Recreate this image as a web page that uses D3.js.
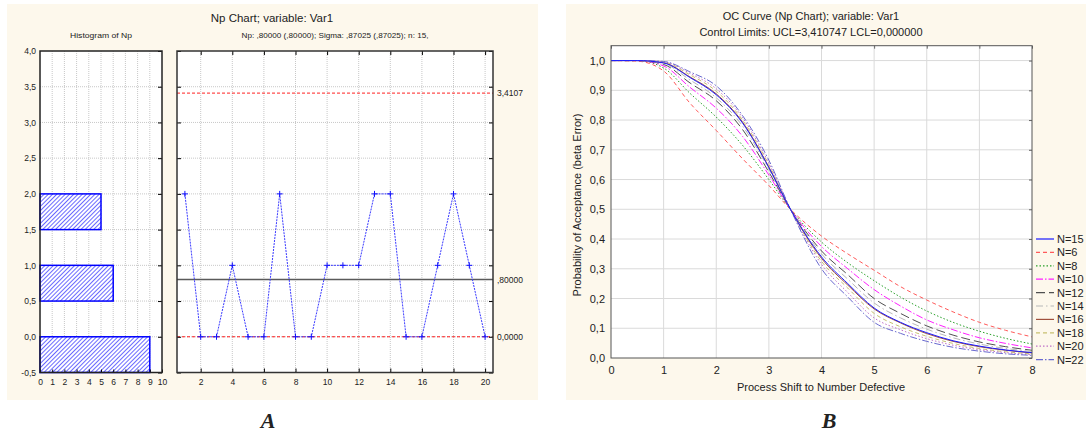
<!DOCTYPE html>
<html>
<head>
<meta charset="utf-8">
<script src="https://cdn.jsdelivr.net/npm/d3@7"></script>
<style>
  body { margin: 0; background: #fff; }
  text { font-family: 'Liberation Sans', Arial, sans-serif; fill: #222; }
</style>
</head>
<body>
<div id="chart"></div>
<script>
// ---- data: np chart (panel A)
let sampleNo = [1, 2, 3, 4, 5, 6, 7, 8, 9, 10, 11, 12, 13, 14, 15, 16, 17, 18, 19, 20]
let npValues = [2, 0, 0, 1, 0, 0, 2, 0, 0, 1, 1, 1, 2, 2, 0, 0, 1, 2, 1, 0]
let binLow = [-0.5, 0.5, 1.5]
let binHigh = [0, 1, 2]
let binCount = [9, 6, 5]
let ucl = 3.4107
let centerLine = 0.8
let lcl = 0
let limitLabels = ['3,4107', ',80000', '0,0000']

// ---- data: OC curves (panel B)
let shifts = [0, 0.5, 1, 1.5, 2, 2.5, 3, 3.41, 4, 4.5, 5, 5.5, 6, 6.5, 7, 7.5, 8]
let seriesNames = ['N=15', 'N=6', 'N=8', 'N=10', 'N=12', 'N=14', 'N=16', 'N=18', 'N=20', 'N=22']
let ocN15 = [1, 1, 0.992, 0.943, 0.885, 0.79, 0.64, 0.5, 0.34, 0.25, 0.168, 0.12, 0.085, 0.058, 0.04, 0.027, 0.018]
let ocN6 = [1, 0.998, 0.965, 0.857, 0.765, 0.67, 0.58, 0.5, 0.41, 0.35, 0.295, 0.24, 0.195, 0.155, 0.12, 0.093, 0.071]
let ocN8 = [1, 1, 0.975, 0.89, 0.81, 0.715, 0.6, 0.5, 0.39, 0.32, 0.26, 0.205, 0.158, 0.12, 0.09, 0.066, 0.047]
let ocN10 = [1, 1, 0.982, 0.91, 0.84, 0.745, 0.615, 0.5, 0.375, 0.3, 0.23, 0.175, 0.128, 0.095, 0.068, 0.049, 0.034]
let ocN12 = [1, 1, 0.987, 0.925, 0.865, 0.768, 0.625, 0.5, 0.36, 0.28, 0.2, 0.15, 0.108, 0.077, 0.054, 0.038, 0.026]
let ocN14 = [1, 1, 0.99, 0.935, 0.875, 0.78, 0.635, 0.5, 0.35, 0.265, 0.185, 0.135, 0.097, 0.068, 0.047, 0.032, 0.022]
let ocN16 = [1, 1, 0.993, 0.945, 0.888, 0.793, 0.642, 0.5, 0.335, 0.245, 0.165, 0.118, 0.082, 0.056, 0.038, 0.026, 0.017]
let ocN18 = [1, 1, 0.995, 0.952, 0.897, 0.8, 0.65, 0.5, 0.325, 0.235, 0.15, 0.105, 0.073, 0.049, 0.032, 0.021, 0.014]
let ocN20 = [1, 1, 0.996, 0.957, 0.905, 0.808, 0.655, 0.5, 0.315, 0.22, 0.135, 0.095, 0.065, 0.043, 0.028, 0.018, 0.011]
let ocN22 = [1, 1, 0.997, 0.962, 0.915, 0.815, 0.665, 0.5, 0.3, 0.205, 0.12, 0.083, 0.056, 0.036, 0.023, 0.014, 0.009]
let ocValues = [ocN15, ocN6, ocN8, ocN10, ocN12, ocN14, ocN16, ocN18, ocN20, ocN22]

let seriesColor = ['#1a1aff', '#ff5a5a', '#2aa02a', '#ff20ff', '#505050', '#b8b8b8', '#a0503c', '#c8c070', '#c070c8', '#6a6ad0']
let seriesDash = ['none', '4,3', '1.5,2', '7,2,1.5,2', '9,4', '7,3,1.5,3', 'none', '4,3', '1.5,2', '7,2,1.5,2']

let comma = d => d.toFixed(1).replace('.', ',')

let svg = d3.select('#chart')
  .append('svg')
  .attr('width', 1086)
  .attr('height', 434)

let defs = svg.append('defs')
let hatch = defs.append('pattern')
  .attr('id', 'hatch')
  .attr('patternUnits', 'userSpaceOnUse')
  .attr('width', 3)
  .attr('height', 3)
  .attr('patternTransform', 'rotate(45)')
hatch.append('rect').attr('width', 3).attr('height', 3).attr('fill', '#fff')
hatch.append('line').attr('x1', 0).attr('y1', 0).attr('x2', 0).attr('y2', 3)
  .attr('stroke', '#2a2aff').attr('stroke-width', 1.4)

// panel backgrounds
svg.append('rect').attr('x', 7).attr('y', 4).attr('width', 531).attr('height', 396).attr('fill', '#fdf8ec')
svg.append('rect').attr('x', 566).attr('y', 4).attr('width', 520).attr('height', 396).attr('fill', '#fdf8ec')

// ================= PANEL A =================
let valY = d3.scaleLinear().domain([-0.5, 4]).range([372.5, 51])
let histX = d3.scaleLinear().domain([0, 10]).range([40, 162])
let npX = d3.scaleLinear().domain([0.5, 20.5]).range([177, 493])
let yTicks = [-0.5, 0, 0.5, 1, 1.5, 2, 2.5, 3, 3.5, 4]

svg.append('text').attr('x', 272).attr('y', 22).attr('text-anchor', 'middle')
  .attr('font-size', 11.5).text('Np Chart; variable:  Var1')
svg.append('text').attr('x', 101).attr('y', 38).attr('text-anchor', 'middle')
  .attr('font-size', 8).attr('textLength', 62).attr('lengthAdjust', 'spacingAndGlyphs')
  .text('Histogram of Np')
svg.append('text').attr('x', 335).attr('y', 38).attr('text-anchor', 'middle')
  .attr('font-size', 8).attr('textLength', 187).attr('lengthAdjust', 'spacingAndGlyphs')
  .text('Np: ,80000 (,80000); Sigma: ,87025 (,87025); n: 15,')

// histogram
let hist = svg.append('g')
hist.append('rect').attr('x', histX(0)).attr('y', valY(4))
  .attr('width', histX(10) - histX(0)).attr('height', valY(-0.5) - valY(4)).attr('fill', '#fff')

hist.selectAll('.hgrid-x')
  .data([1, 2, 3, 4, 5, 6, 7, 8, 9])
  .enter().append('line')
  .attr('class', 'hgrid-x')
  .attr('x1', d => histX(d)).attr('x2', d => histX(d))
  .attr('y1', valY(4)).attr('y2', valY(-0.5))
  .attr('stroke', '#c8c8c8').attr('stroke-dasharray', '1,1')
hist.selectAll('.hgrid-y')
  .data(yTicks.slice(1, -1))
  .enter().append('line')
  .attr('class', 'hgrid-y')
  .attr('x1', histX(0)).attr('x2', histX(10))
  .attr('y1', d => valY(d)).attr('y2', d => valY(d))
  .attr('stroke', '#c8c8c8').attr('stroke-dasharray', '1,1')

hist.selectAll('.bar')
  .data(binCount)
  .enter().append('rect')
  .attr('class', 'bar')
  .attr('x', histX(0))
  .attr('y', (d, i) => valY(binHigh[i]))
  .attr('width', d => histX(d) - histX(0))
  .attr('height', (d, i) => valY(binLow[i]) - valY(binHigh[i]))
  .attr('fill', 'url(#hatch)')
  .attr('stroke', '#0000ff').attr('stroke-width', 1.5)

hist.append('g')
  .attr('transform', `translate(${histX(0)},0)`)
  .call(d3.axisLeft(valY).tickValues(yTicks).tickFormat(comma).tickSize(0).tickPadding(4))
  .call(g => g.select('.domain').remove())
  .call(g => g.selectAll('text').attr('font-size', 8.5))
hist.append('g')
  .attr('transform', `translate(${histX(10)},0)`)
  .call(d3.axisRight(valY).tickValues(yTicks).tickFormat('').tickSize(-4))
  .call(g => g.select('.domain').remove())
hist.append('g')
  .attr('transform', `translate(0,${valY(-0.5)})`)
  .call(d3.axisBottom(histX).ticks(10).tickSize(-3).tickPadding(6))
  .call(g => g.select('.domain').remove())
  .call(g => g.selectAll('text').attr('font-size', 8.5))
hist.append('rect').attr('x', histX(0)).attr('y', valY(4))
  .attr('width', histX(10) - histX(0)).attr('height', valY(-0.5) - valY(4))
  .attr('fill', 'none').attr('stroke', '#222').attr('stroke-width', 1.5)

// np chart
let np = svg.append('g')
np.append('rect').attr('x', npX(0.5)).attr('y', valY(4))
  .attr('width', npX(20.5) - npX(0.5)).attr('height', valY(-0.5) - valY(4)).attr('fill', '#fff')

let evenTicks = [2, 4, 6, 8, 10, 12, 14, 16, 18, 20]
np.selectAll('.ngrid-x')
  .data(evenTicks)
  .enter().append('line')
  .attr('class', 'ngrid-x')
  .attr('x1', d => npX(d)).attr('x2', d => npX(d))
  .attr('y1', valY(4)).attr('y2', valY(-0.5))
  .attr('stroke', '#c8c8c8').attr('stroke-dasharray', '1,1')
np.selectAll('.ngrid-y')
  .data(yTicks.slice(1, -1))
  .enter().append('line')
  .attr('class', 'ngrid-y')
  .attr('x1', npX(0.5)).attr('x2', npX(20.5))
  .attr('y1', d => valY(d)).attr('y2', d => valY(d))
  .attr('stroke', '#c8c8c8').attr('stroke-dasharray', '1,1')

// limits
np.selectAll('.limit')
  .data([ucl, centerLine, lcl])
  .enter().append('line')
  .attr('class', 'limit')
  .attr('x1', npX(0.5)).attr('x2', npX(20.5))
  .attr('y1', d => valY(d)).attr('y2', d => valY(d))
  .attr('stroke', (d, i) => i === 1 ? '#5a5a5a' : '#ff2020')
  .attr('stroke-width', (d, i) => i === 1 ? 1.5 : 1)
  .attr('stroke-dasharray', (d, i) => i === 1 ? 'none' : '3,2')
np.selectAll('.limit-label')
  .data([ucl, centerLine, lcl])
  .enter().append('text')
  .attr('class', 'limit-label')
  .attr('x', npX(20.5) + 4)
  .attr('y', d => valY(d) + 3)
  .attr('font-size', 8.5)
  .text((d, i) => limitLabels[i])

let npLine = d3.line()
  .x((d, i) => npX(sampleNo[i]))
  .y(d => valY(d))
np.append('path')
  .datum(npValues)
  .attr('d', npLine)
  .attr('fill', 'none')
  .attr('stroke', '#3a3aff')
  .attr('stroke-width', 1)
  .attr('stroke-dasharray', '2,1')
np.selectAll('.marker')
  .data(npValues)
  .enter().append('path')
  .attr('class', 'marker')
  .attr('transform', (d, i) => `translate(${npX(sampleNo[i])},${valY(d)})`)
  .attr('d', 'M-3,0H3M0,-3V3')
  .attr('stroke', '#1010ff')
  .attr('stroke-width', 1)

np.append('g')
  .attr('transform', `translate(0,${valY(-0.5)})`)
  .call(d3.axisBottom(npX).tickValues(evenTicks).tickSize(-4).tickPadding(6))
  .call(g => g.select('.domain').remove())
  .call(g => g.selectAll('text').attr('font-size', 8.5))
np.append('g')
  .attr('transform', `translate(0,${valY(4)})`)
  .call(d3.axisTop(npX).tickValues(evenTicks).tickFormat('').tickSize(-4))
  .call(g => g.select('.domain').remove())
np.append('g')
  .attr('transform', `translate(${npX(0.5)},0)`)
  .call(d3.axisLeft(valY).tickValues(yTicks).tickFormat('').tickSize(-4))
  .call(g => g.select('.domain').remove())
np.append('g')
  .attr('transform', `translate(${npX(20.5)},0)`)
  .call(d3.axisRight(valY).tickValues(yTicks).tickFormat('').tickSize(-4))
  .call(g => g.select('.domain').remove())
np.append('rect').attr('x', npX(0.5)).attr('y', valY(4))
  .attr('width', npX(20.5) - npX(0.5)).attr('height', valY(-0.5) - valY(4))
  .attr('fill', 'none').attr('stroke', '#333').attr('stroke-width', 1.5)

// ================= PANEL B =================
let ocX = d3.scaleLinear().domain([0, 8]).range([611, 1032])
let ocY = d3.scaleLinear().domain([0, 1.05]).range([358, 45.7])
let ocYTicks = [0, 0.1, 0.2, 0.3, 0.4, 0.5, 0.6, 0.7, 0.8, 0.9, 1.0]
let ocXTicks = [0, 1, 2, 3, 4, 5, 6, 7, 8]

svg.append('text').attr('x', 811).attr('y', 20).attr('text-anchor', 'middle')
  .attr('font-size', 11).text('OC Curve (Np Chart); variable: Var1')
svg.append('text').attr('x', 811).attr('y', 36).attr('text-anchor', 'middle')
  .attr('font-size', 11).text('Control Limits: UCL=3,410747 LCL=0,000000')

let oc = svg.append('g')
oc.append('rect').attr('x', ocX(0)).attr('y', ocY(1.05))
  .attr('width', ocX(8) - ocX(0)).attr('height', ocY(0) - ocY(1.05)).attr('fill', '#fff')

oc.selectAll('.ogrid-x')
  .data(ocXTicks.slice(1, -1))
  .enter().append('line')
  .attr('class', 'ogrid-x')
  .attr('x1', d => ocX(d)).attr('x2', d => ocX(d))
  .attr('y1', ocY(1.05)).attr('y2', ocY(0))
  .attr('stroke', '#dadada')
oc.selectAll('.ogrid-y')
  .data(ocYTicks.slice(1))
  .enter().append('line')
  .attr('class', 'ogrid-y')
  .attr('x1', ocX(0)).attr('x2', ocX(8))
  .attr('y1', d => ocY(d)).attr('y2', d => ocY(d))
  .attr('stroke', '#dadada')

let ocLine = d3.line()
  .x((d, i) => ocX(shifts[i]))
  .y(d => ocY(d))
  .curve(d3.curveMonotoneX)

// draw N=15 last so it sits on top like the original
let drawOrder = [1, 2, 3, 4, 5, 6, 7, 8, 9, 0]
oc.selectAll('.oc-curve')
  .data(drawOrder)
  .enter().append('path')
  .attr('class', 'oc-curve')
  .attr('d', k => ocLine(ocValues[k]))
  .attr('fill', 'none')
  .attr('stroke', k => seriesColor[k])
  .attr('stroke-width', 1)
  .attr('stroke-dasharray', k => seriesDash[k])

oc.append('g')
  .attr('transform', `translate(${ocX(0)},0)`)
  .call(d3.axisLeft(ocY).tickValues(ocYTicks).tickFormat(comma).tickSize(0).tickPadding(6))
  .call(g => g.select('.domain').remove())
  .call(g => g.selectAll('text').attr('font-size', 11))
oc.append('g')
  .attr('transform', `translate(${ocX(8)},0)`)
  .call(d3.axisRight(ocY).tickValues(ocYTicks).tickFormat('').tickSize(-3))
  .call(g => g.select('.domain').remove())
oc.append('g')
  .attr('transform', `translate(0,${ocY(0)})`)
  .call(d3.axisBottom(ocX).tickValues(ocXTicks).tickSize(0).tickPadding(8))
  .call(g => g.select('.domain').remove())
  .call(g => g.selectAll('text').attr('font-size', 11))
oc.append('g')
  .attr('transform', `translate(0,${ocY(1.05)})`)
  .call(d3.axisTop(ocX).tickValues(ocXTicks).tickFormat('').tickSize(-3))
  .call(g => g.select('.domain').remove())
oc.selectAll('.tick line').attr('stroke', '#666')
oc.append('rect').attr('x', ocX(0)).attr('y', ocY(1.05))
  .attr('width', ocX(8) - ocX(0)).attr('height', ocY(0) - ocY(1.05))
  .attr('fill', 'none').attr('stroke', '#555').attr('stroke-width', 1)

svg.append('text')
  .attr('transform', 'translate(581,205) rotate(-90)')
  .attr('text-anchor', 'middle')
  .attr('font-size', 11)
  .text('Probability of Acceptance (beta Error)')
svg.append('text').attr('x', 821).attr('y', 391).attr('text-anchor', 'middle')
  .attr('font-size', 11).text('Process Shift to Number Defective')

// legend
let legend = svg.append('g').attr('transform', 'translate(1036,239)')
legend.selectAll('.legend-entry')
  .data(seriesNames)
  .enter().append('g')
  .attr('class', 'legend-entry')
  .attr('transform', (d, i) => `translate(0,${i * 13.4})`)
  .each(function (d, i) {
    let g = d3.select(this)
    g.append('line')
      .attr('x1', 0).attr('x2', 18).attr('y1', 0).attr('y2', 0)
      .attr('stroke', seriesColor[i])
      .attr('stroke-width', 1.2)
      .attr('stroke-dasharray', seriesDash[i])
    g.append('text')
      .attr('x', 21).attr('y', 4)
      .attr('font-size', 11)
      .text(d)
  })

// panel captions
svg.selectAll('.caption')
  .data(['A', 'B'])
  .enter().append('text')
  .attr('class', 'caption')
  .attr('x', (d, i) => i === 0 ? 268 : 829)
  .attr('y', 428)
  .attr('text-anchor', 'middle')
  .attr('font-size', 22)
  .attr('font-weight', 'bold')
  .attr('font-style', 'italic')
  .style('font-family', "'Liberation Serif', 'DejaVu Serif', serif")
  .text(d => d)
</script>
</body>
</html>
